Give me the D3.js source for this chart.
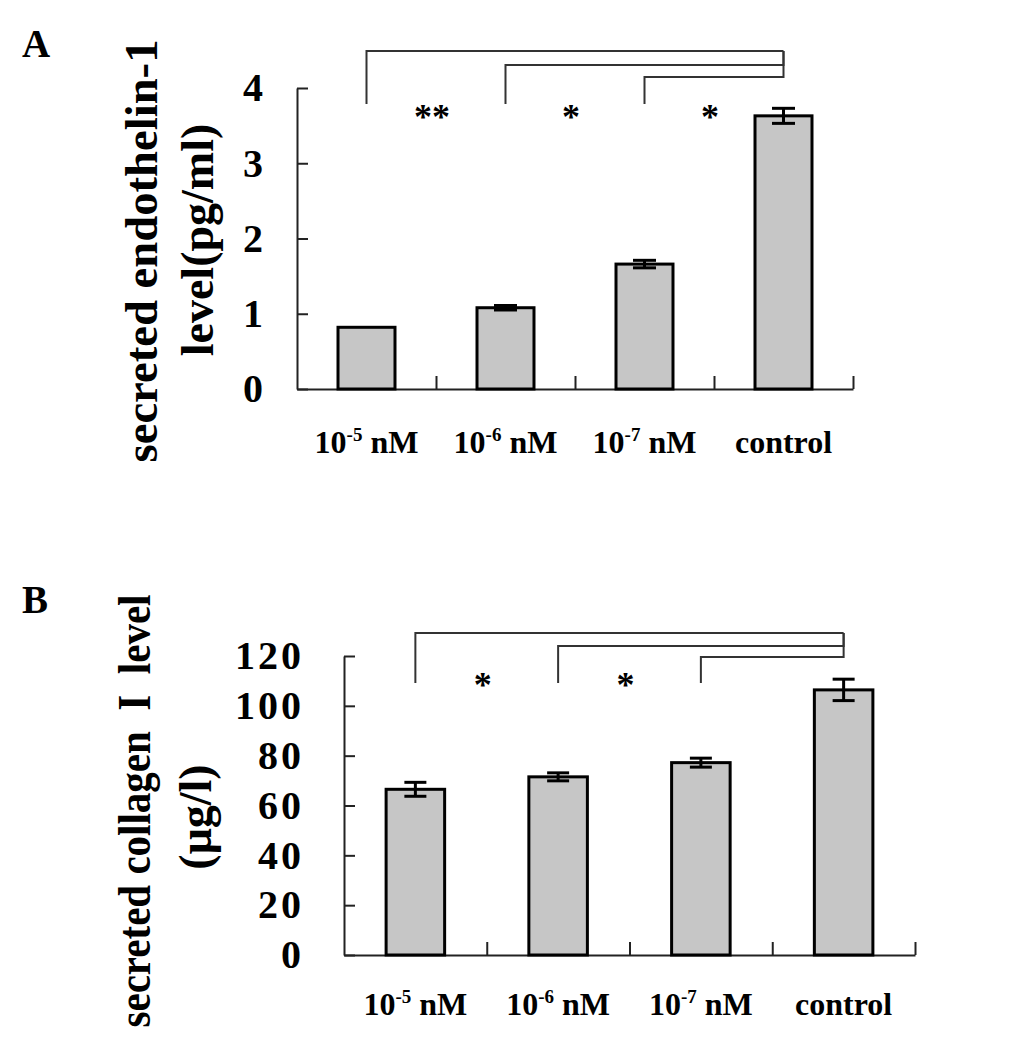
<!DOCTYPE html>
<html lang="en">
<head>
<meta charset="UTF-8">
<title>Endothelin-1 and collagen I secretion</title>
<script src="https://cdn.jsdelivr.net/npm/d3@7"></script>
<style>
	body { margin: 0; background: #fff; }
	svg text { font-family: "Liberation Serif", "Times New Roman", serif; fill: #000; }
	.bar { fill: #c6c6c6; stroke: #000; stroke-width: 3; }
	.err { stroke: #000; stroke-width: 3; fill: none; }
	.axis path, .axis line { stroke: #222; stroke-width: 2; }
	.bracket { fill: none; stroke: #333; stroke-width: 2; }
	.ytick text { font-size: 40px; font-weight: bold; }
	.xlab { font-size: 32px; font-weight: bold; }
	.title { font-size: 46px; font-weight: bold; }
	.star { font-size: 36px; font-weight: bold; }
	.panel { font-size: 39px; font-weight: bold; }
</style>
</head>
<body>
<div id="chart"></div>
<script>
	// categories, label parts: base, superscript, tail
	const categories = ['1e-5', '1e-6', '1e-7', 'control'];
	const labelBase = ['10', '10', '10', 'control'];
	const labelSup = ['-5', '-6', '-7', ''];
	const labelTail = [' nM', ' nM', ' nM', ''];

	// panel A: secreted endothelin-1 (pg/ml)
	const endothelinMeans = [0.82, 1.08, 1.66, 3.63];
	const endothelinErrors = [0, 0.03, 0.05, 0.10];
	const endothelinTicks = [0, 1, 2, 3, 4];
	const endothelinStars = ['**', '*', '*'];

	// panel B: secreted collagen I (ug/l)
	const collagenMeans = [66.5, 71.5, 77.2, 106.4];
	const collagenErrors = [2.8, 1.6, 1.8, 4.3];
	const collagenTicks = [0, 20, 40, 60, 80, 100, 120];
	const collagenStars = ['*', '*', ''];

	const width = 1033, height = 1037;

	const svg = d3.select('#chart')
		.append('svg')
		.attr('width', width)
		.attr('height', height)
		.style('display', 'block');

	function drawPanel(p) {
		const g = svg.append('g');

		const x = d3.scaleBand()
			.domain(categories)
			.range([p.x0, p.x1])
			.paddingInner(0.59)
			.paddingOuter(0.295);

		const y = d3.scaleLinear()
			.domain([0, d3.max(p.ticks)])
			.range([p.yBase, p.yTop]);

		const cx = d => x(d) + x.bandwidth() / 2;

		// y axis, ticks pointing inward
		g.append('g')
			.attr('class', 'axis ytick')
			.attr('transform', `translate(${p.x0},0)`)
			.call(d3.axisLeft(y)
				.tickValues(p.ticks)
				.tickFormat(d3.format('d'))
				.tickSizeInner(-11)
				.tickSizeOuter(0)
				.tickPadding(p.tickPad))
			.selectAll('text')
			.attr('letter-spacing', p.letterSpacing);

		// x axis line with labels
		const xAxis = g.append('g')
			.attr('class', 'axis')
			.attr('transform', `translate(0,${p.yBase})`)
			.call(d3.axisBottom(x).tickSize(0).tickSizeOuter(0));

		xAxis.selectAll('text').each(function(d, i) {
			const t = d3.select(this)
				.text(null)
				.attr('class', 'xlab')
				.attr('y', p.labelOffset)
				.attr('dy', 0);
			t.append('tspan').text(labelBase[i]);
			if (labelSup[i]) {
				t.append('tspan').attr('dy', -12).style('font-size', '19px').text(labelSup[i]);
				t.append('tspan').attr('dy', 12).text(labelTail[i]);
			}
		});

		// boundary ticks between groups
		const bounds = d3.scaleLinear().domain([0, categories.length]).range([p.x0, p.x1]);
		g.append('g')
			.attr('class', 'axis')
			.attr('transform', `translate(0,${p.yBase})`)
			.call(d3.axisBottom(bounds)
				.tickValues(d3.range(1, categories.length + 1))
				.tickSize(-13)
				.tickFormat(''))
			.select('.domain').remove();

		const rows = categories.map((c, i) => ({c, v: p.means[i], e: p.errors[i]}));

		g.selectAll('rect.bar')
			.data(rows)
			.join('rect')
			.attr('class', 'bar')
			.attr('x', d => x(d.c))
			.attr('width', x.bandwidth())
			.attr('y', d => y(d.v))
			.attr('height', d => y(0) - y(d.v));

		// error bars
		const eb = g.selectAll('g.eb')
			.data(rows.filter(d => d.e > 0))
			.join('g')
			.attr('class', 'err');
		eb.append('line')
			.attr('x1', d => cx(d.c)).attr('x2', d => cx(d.c))
			.attr('y1', d => y(d.v - d.e)).attr('y2', d => y(d.v + d.e));
		[1, -1].forEach(s => {
			eb.append('line')
				.attr('x1', d => cx(d.c) - p.cap).attr('x2', d => cx(d.c) + p.cap)
				.attr('y1', d => y(d.v + s * d.e)).attr('y2', d => y(d.v + s * d.e));
		});

		// significance brackets, each from a treated group to control
		const ctrl = cx('control');
		p.stars.forEach((s, i) => {
			const lx = cx(categories[i]);
			const ly = p.bracketY[i];
			g.append('path')
				.attr('class', 'bracket')
				.attr('d', `M${lx},${p.legBottom}V${ly}H${ctrl}V${p.bracketY[0]}`);
			if (s) {
				const nx = i + 1 < categories.length - 1 ? cx(categories[i + 1]) : ctrl;
				g.append('text')
					.attr('class', 'star')
					.attr('text-anchor', 'middle')
					.attr('x', (lx + nx) / 2 - 4)
					.attr('y', p.starY + 17)
					.text(s);
			}
		});

		// y title, two rotated lines
		p.title.forEach((line, i) => {
			const t = g.append('text')
				.attr('class', 'title')
				.attr('text-anchor', 'middle')
				.attr('transform', `translate(${p.titleX[i]},${p.titleY[i]}) rotate(-90)`)
				.style('white-space', 'pre')
				.text(line);
			if (p.titleLen[i]) t.attr('textLength', p.titleLen[i]).attr('lengthAdjust', 'spacingAndGlyphs');
		});

		g.append('text')
			.attr('class', 'panel')
			.attr('x', 22)
			.attr('y', p.letterY)
			.text(p.letter);
	}

	drawPanel({
		letter: 'A', letterY: 57,
		x0: 297, x1: 853, yBase: 389, yTop: 88,
		ticks: endothelinTicks, means: endothelinMeans, errors: endothelinErrors,
		stars: endothelinStars, tickPad: 34, letterSpacing: 0,
		labelOffset: 64, cap: 11.5,
		bracketY: [51, 65, 77], legBottom: 104, starY: 112,
		title: ['secreted endothelin-1', 'level(pg/ml)'],
		titleX: [157, 213], titleY: [251, 240], titleLen: [423, 0]
	});

	drawPanel({
		letter: 'B', letterY: 613,
		x0: 344, x1: 915, yBase: 955, yTop: 656,
		ticks: collagenTicks, means: collagenMeans, errors: collagenErrors,
		stars: collagenStars, tickPad: 40, letterSpacing: 3,
		labelOffset: 60, cap: 11,
		bracketY: [633, 646, 657], legBottom: 683, starY: 680,
		title: ['secreted collagen  I  level', '(μg/l)'],
		titleX: [150, 211], titleY: [811, 817], titleLen: [433, 0]
	});
</script>
</body>
</html>
